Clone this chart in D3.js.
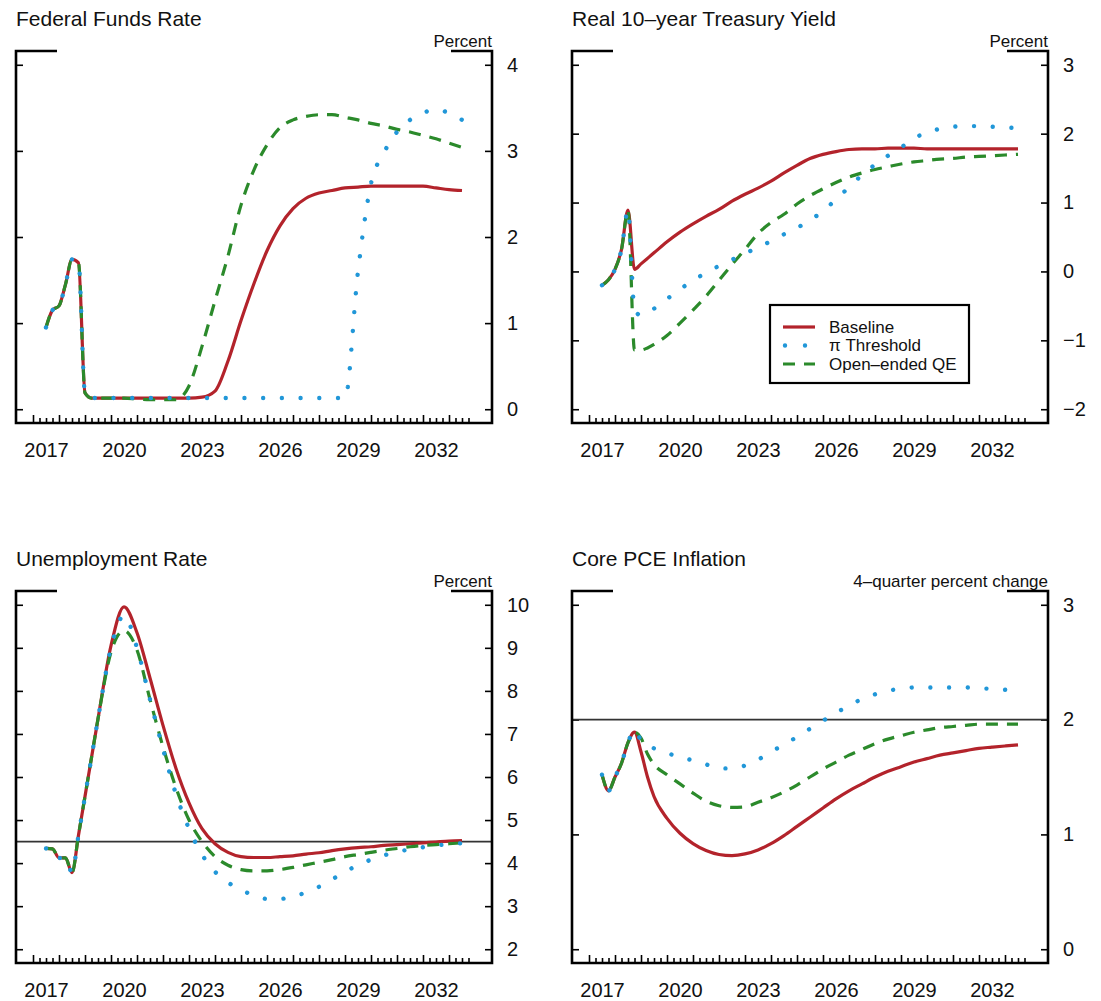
<!DOCTYPE html>
<html>
<head>
<meta charset="utf-8">
<script src="https://cdn.jsdelivr.net/npm/d3@7"></script>
<style>
  body { margin: 0; background: #fff; }
  svg { display: block; }
  text { font-family: "Liberation Sans", Arial, Helvetica, sans-serif; fill: #111; }
</style>
</head>
<body>
<svg id="chart" width="1101" height="1001"></svg>
<script>
// Simulation dates (decimal years): quarterly through 2019:Q3, then half-yearly
const dates = [2017.5, 2017.75, 2018, 2018.25, 2018.5, 2018.75, 2019, 2019.25, 2019.5,
  2020, 2020.5, 2021, 2021.5, 2022, 2022.5, 2023, 2023.5, 2024, 2024.5, 2025, 2025.5,
  2026, 2026.5, 2027, 2027.5, 2028, 2028.5, 2029, 2029.5, 2030, 2030.5, 2031, 2031.5,
  2032, 2032.5, 2033, 2033.5];

const yearLabels = [2017, 2020, 2023, 2026, 2029, 2032];
const seriesNames = ["Baseline", "\u03c0 Threshold", "Open\u2013ended QE"];

// Federal funds rate, percent
const ffrBaseline = [0.95, 1.15, 1.20, 1.45, 1.74, 1.70, 0.19, 0.13, 0.13,
  0.13, 0.13, 0.13, 0.13, 0.13, 0.13, 0.13, 0.14, 0.21, 0.56, 1.03, 1.46, 1.84, 2.13,
  2.33, 2.45, 2.51, 2.54, 2.57, 2.58, 2.59, 2.59, 2.59, 2.59, 2.59, 2.57, 2.55, 2.54];
const ffrThreshold = [0.95, 1.15, 1.20, 1.45, 1.74, 1.70, 0.19, 0.13, 0.13,
  0.13, 0.13, 0.13, 0.13, 0.13, 0.13, 0.13, 0.13, 0.13, 0.13, 0.13, 0.13, 0.13, 0.13,
  0.13, 0.13, 0.13, 0.13, 0.13, 1.60, 2.62, 2.98, 3.22, 3.36, 3.44, 3.48, 3.44, 3.36];
const ffrQE = [0.95, 1.15, 1.20, 1.45, 1.74, 1.70, 0.19, 0.13, 0.13,
  0.13, 0.13, 0.12, 0.11, 0.11, 0.11, 0.27, 0.73, 1.26, 1.78, 2.37, 2.78, 3.07, 3.27,
  3.36, 3.40, 3.42, 3.42, 3.39, 3.36, 3.32, 3.29, 3.25, 3.22, 3.18, 3.14, 3.09, 3.04];

// Real 10-year Treasury yield, percent
const ryBaseline = [-0.20, -0.12, 0.03, 0.32, 0.89, 0.03, 0.11, 0.19, 0.27,
  0.43, 0.57, 0.69, 0.80, 0.90, 1.02, 1.12, 1.21, 1.31, 1.43, 1.54, 1.64, 1.70, 1.74,
  1.77, 1.78, 1.78, 1.79, 1.79, 1.79, 1.78, 1.78, 1.78, 1.78, 1.78, 1.78, 1.78, 1.78];
const ryThreshold = [-0.20, -0.12, 0.03, 0.32, 0.89, -0.55, -0.64, -0.60, -0.54,
  -0.40, -0.26, -0.13, -0.02, 0.08, 0.17, 0.26, 0.35, 0.44, 0.54, 0.63, 0.75, 0.87, 1.05,
  1.22, 1.40, 1.55, 1.68, 1.80, 1.93, 2.02, 2.07, 2.10, 2.11, 2.11, 2.10, 2.09, 2.08];
const ryQE = [-0.20, -0.12, 0.03, 0.32, 0.89, -1.14, -1.14, -1.11, -1.06,
  -0.93, -0.75, -0.56, -0.36, -0.13, 0.10, 0.32, 0.55, 0.71, 0.83, 0.98, 1.10, 1.20, 1.29,
  1.37, 1.43, 1.48, 1.52, 1.56, 1.59, 1.61, 1.63, 1.64, 1.66, 1.67, 1.68, 1.69, 1.70];

// Unemployment rate, percent
const urBaseline = [4.34, 4.33, 4.12, 4.12, 3.78, 4.65, 5.55, 6.45, 7.35,
  9.05, 9.95, 9.35, 8.30, 7.20, 6.20, 5.40, 4.80, 4.45, 4.25, 4.15, 4.13, 4.13, 4.15,
  4.17, 4.21, 4.24, 4.29, 4.33, 4.36, 4.38, 4.41, 4.43, 4.45, 4.47, 4.49, 4.51, 4.52];
const urThreshold = [4.34, 4.33, 4.12, 4.12, 3.78, 4.65, 5.55, 6.45, 7.35,
  9.00, 9.75, 9.00, 7.80, 6.65, 5.60, 4.80, 4.20, 3.80, 3.55, 3.38, 3.25, 3.17, 3.17,
  3.22, 3.32, 3.45, 3.62, 3.80, 3.95, 4.08, 4.18, 4.26, 4.32, 4.37, 4.41, 4.44, 4.46];
const urQE = [4.34, 4.33, 4.12, 4.12, 3.78, 4.65, 5.55, 6.45, 7.35,
  8.90, 9.40, 8.95, 7.80, 6.70, 5.75, 5.00, 4.50, 4.15, 3.95, 3.85, 3.82, 3.82, 3.85,
  3.90, 3.96, 4.02, 4.08, 4.15, 4.20, 4.25, 4.30, 4.34, 4.38, 4.41, 4.43, 4.45, 4.47];

// Core PCE inflation, 4-quarter percent change
const pceBaseline = [1.52, 1.38, 1.50, 1.62, 1.80, 1.89, 1.72, 1.50, 1.33,
  1.14, 1.01, 0.92, 0.86, 0.825, 0.815, 0.83, 0.865, 0.92, 0.99, 1.07, 1.15, 1.23, 1.31,
  1.38, 1.44, 1.50, 1.55, 1.59, 1.63, 1.66, 1.69, 1.71, 1.73, 1.75, 1.76, 1.77, 1.78];
const pceThreshold = [1.52, 1.38, 1.50, 1.62, 1.80, 1.91, 1.82, 1.77, 1.75,
  1.71, 1.67, 1.645, 1.61, 1.575, 1.575, 1.60, 1.65, 1.72, 1.78, 1.85, 1.92, 1.99, 2.06,
  2.12, 2.18, 2.22, 2.25, 2.27, 2.28, 2.28, 2.28, 2.28, 2.28, 2.27, 2.27, 2.26, 2.25];
const pceQE = [1.52, 1.38, 1.50, 1.62, 1.80, 1.89, 1.84, 1.70, 1.61,
  1.52, 1.44, 1.36, 1.29, 1.25, 1.235, 1.24, 1.28, 1.32, 1.37, 1.43, 1.50, 1.57, 1.63,
  1.69, 1.74, 1.79, 1.83, 1.86, 1.89, 1.91, 1.93, 1.94, 1.95, 1.96, 1.96, 1.96, 1.96];

// Right-axis tick values per panel
const ffrTicks = [0, 1, 2, 3, 4];
const ryTicks = [-2, -1, 0, 1, 2, 3];
const urTicks = [2, 3, 4, 5, 6, 7, 8, 9, 10];
const pceTicks = [0, 1, 2, 3];

const colors = { base: "#b3232b", thr: "#2197d8", qe: "#2b8a2b" };

const panels = [
  { title: "Federal Funds Rate", unit: "Percent", left: 16, top: 51,
    ticks: ffrTicks, ref: null, legend: false,
    base: ffrBaseline, thr: ffrThreshold, qe: ffrQE },
  { title: "Real 10\u2013year Treasury Yield", unit: "Percent", left: 572, top: 51,
    ticks: ryTicks, ref: null, legend: true,
    base: ryBaseline, thr: ryThreshold, qe: ryQE },
  { title: "Unemployment Rate", unit: "Percent", left: 16, top: 591,
    ticks: urTicks, ref: 4.5, legend: false,
    base: urBaseline, thr: urThreshold, qe: urQE },
  { title: "Core PCE Inflation", unit: "4\u2013quarter percent change", left: 572, top: 591,
    ticks: pceTicks, ref: 2, legend: false,
    base: pceBaseline, thr: pceThreshold, qe: pceQE }
];

const W = 476, H = 372;
const svg = d3.select("#chart");

const x = d3.scaleLinear().domain([2016.346, 2034.654]).range([0, W]);
const quarterTicks = d3.range(2017, 2033.76, 0.25);

const fmt = v => v < 0 ? "\u2212" + Math.abs(v) : String(v);

panels.forEach(p => {
  const lo = d3.min(p.ticks), hi = d3.max(p.ticks), pad = (hi - lo) * 0.04;
  const y = d3.scaleLinear().domain([lo - pad, hi + pad]).range([H, 0]);
  const g = svg.append("g").attr("transform", `translate(${p.left},${p.top})`);

  // title and unit note
  svg.append("text").attr("x", p.left).attr("y", p.top - 25)
    .attr("font-size", 21).text(p.title);
  svg.append("text").attr("x", p.left + W).attr("y", p.top - 4)
    .attr("text-anchor", "end").attr("font-size", 17).text(p.unit);

  // quarterly ticks along the bottom, taller at each year start
  const minor = d3.axisBottom(x).tickValues(quarterTicks.filter(t => t % 1 !== 0))
    .tickSize(-5).tickFormat("");
  const major = d3.axisBottom(x).tickValues(quarterTicks.filter(t => t % 1 === 0))
    .tickSize(-8).tickFormat("");
  [minor, major].forEach(ax => {
    const a = g.append("g").attr("transform", `translate(0,${H})`).call(ax);
    a.select(".domain").remove();
    a.selectAll("line").attr("stroke", "#000").attr("stroke-width", 1.6);
  });

  // year labels centred on each year
  const lab = g.append("g").attr("transform", `translate(0,${H})`)
    .call(d3.axisBottom(x).tickValues(yearLabels.map(v => v + 0.5))
      .tickSize(0).tickPadding(20).tickFormat(v => String(Math.floor(v))));
  lab.select(".domain").remove();
  lab.selectAll("text").attr("font-size", 20)
    .style("font-family", '"Liberation Sans", Arial, sans-serif').attr("fill", "#111");

  // inward y ticks on both sides; labels on the right
  const yl = g.append("g").call(d3.axisLeft(y).tickValues(p.ticks).tickSize(-7).tickFormat(""));
  yl.select(".domain").remove();
  yl.selectAll("line").attr("stroke", "#000").attr("stroke-width", 1.6);
  const yr = g.append("g").attr("transform", `translate(${W},0)`)
    .call(d3.axisRight(y).tickValues(p.ticks).tickSize(-7).tickPadding(15).tickFormat(fmt));
  yr.select(".domain").remove();
  yr.selectAll("line").attr("stroke", "#000").attr("stroke-width", 1.6);
  yr.selectAll("text").attr("font-size", 20).attr("text-anchor", "start")
    .style("font-family", '"Liberation Sans", Arial, sans-serif').attr("fill", "#111");

  // reference line
  if (p.ref !== null) {
    g.append("line").attr("x1", 0).attr("x2", W)
      .attr("y1", y(p.ref)).attr("y2", y(p.ref))
      .attr("stroke", "#333").attr("stroke-width", 1.8);
  }

  // frame: sides, bottom, and short brackets at the top corners
  const frame = d3.path();
  frame.moveTo(41, 0); frame.lineTo(0, 0); frame.lineTo(0, H);
  frame.lineTo(W, H); frame.lineTo(W, 0); frame.lineTo(W - 41, 0);
  g.append("path").attr("d", frame.toString()).attr("fill", "none")
    .attr("stroke", "#000").attr("stroke-width", 2.6).attr("stroke-linejoin", "miter");

  const line = d3.line().x((d, i) => x(dates[i])).y(d => y(d)).curve(d3.curveMonotoneX);

  g.append("path").attr("d", line(p.base)).attr("fill", "none")
    .attr("stroke", colors.base).attr("stroke-width", 3.2);
  g.append("path").attr("d", line(p.qe)).attr("fill", "none")
    .attr("stroke", colors.qe).attr("stroke-width", 3.2)
    .attr("stroke-dasharray", "12,9");
  g.append("path").attr("d", line(p.thr)).attr("fill", "none")
    .attr("stroke", colors.thr).attr("stroke-width", 4.4)
    .attr("stroke-linecap", "round").attr("stroke-dasharray", "0.01,18.7");

  if (p.legend) {
    const lg = svg.append("g").attr("transform", "translate(770,305)");
    lg.append("rect").attr("width", 199).attr("height", 78)
      .attr("fill", "#fff").attr("stroke", "#000").attr("stroke-width", 2.2);
    const rows = [
      { key: "base", dash: null, w: 3.2, cap: "butt" },
      { key: "thr", dash: "0.01,20", w: 4.4, cap: "round" },
      { key: "qe", dash: "12,9", w: 3.2, cap: "butt" }
    ];
    rows.forEach((r, i) => {
      const yy = 22 + i * 18.5;
      const l = lg.append("line").attr("x1", r.cap === "round" ? 15 : 13).attr("x2", 45)
        .attr("y1", yy).attr("y2", yy)
        .attr("stroke", colors[r.key]).attr("stroke-width", r.w).attr("stroke-linecap", r.cap);
      if (r.dash) l.attr("stroke-dasharray", r.dash);
      lg.append("text").attr("x", 59).attr("y", yy).attr("dy", "0.35em")
        .attr("font-size", 17).text(seriesNames[i]);
    });
  }
});
</script>
</body>
</html>
